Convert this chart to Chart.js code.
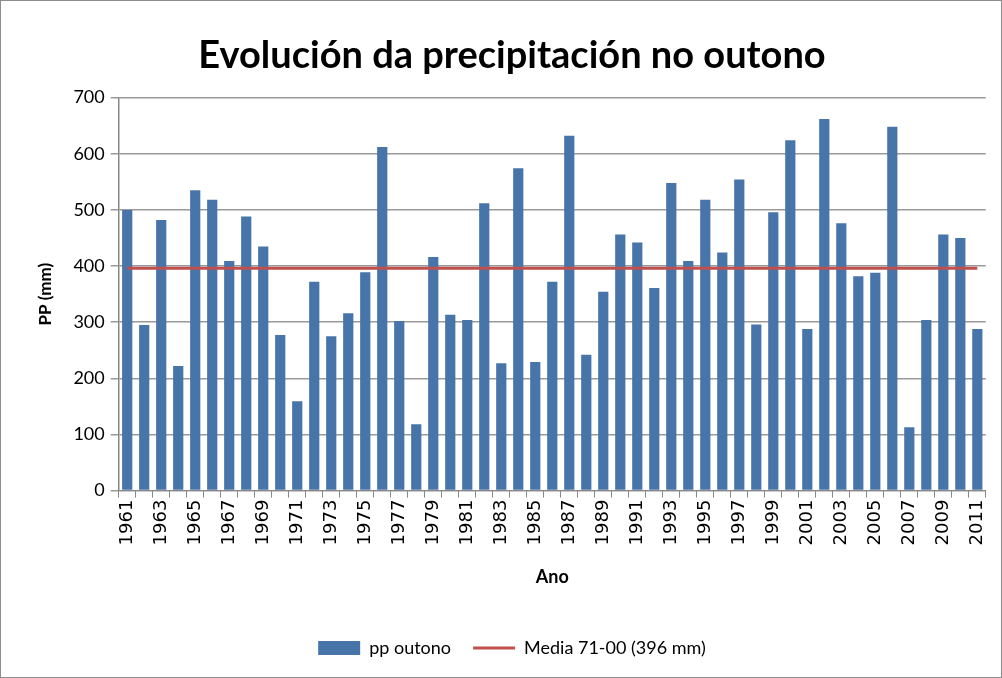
<!DOCTYPE html>
<html>
<head>
<meta charset="utf-8">
<script src="https://cdn.jsdelivr.net/npm/chart.js@4/dist/chart.umd.min.js"></script>
<style>
  html, body { margin: 0; padding: 0; background: #fff; }
  #wrap { width: 1000px; height: 676px; border: 1px solid #8c8c8c; position: relative; }
</style>
</head>
<body>
<div id="wrap"><canvas id="ppChart" width="1000" height="676"></canvas></div>
<script>
const years = ["1961","1962","1963","1964","1965","1966","1967","1968","1969","1970",
  "1971","1972","1973","1974","1975","1976","1977","1978","1979","1980",
  "1981","1982","1983","1984","1985","1986","1987","1988","1989","1990",
  "1991","1992","1993","1994","1995","1996","1997","1998","1999","2000",
  "2001","2002","2003","2004","2005","2006","2007","2008","2009","2010","2011"];

const ppOutono = [500, 295, 482, 222, 535, 518, 409, 488, 435, 277,
  159, 372, 275, 316, 389, 612, 302, 118, 416, 313,
  304, 512, 227, 574, 229, 372, 632, 242, 354, 456,
  442, 361, 548, 409, 518, 424, 554, 296, 496, 624,
  288, 662, 476, 382, 388, 648, 113, 304, 456, 450, 288];

const mediaValue = 396;
const mediaLine = [{ x: "1961", y: mediaValue }, { x: "2011", y: mediaValue }];

const yTicks = [0, 100, 200, 300, 400, 500, 600, 700];

new Chart(document.getElementById("ppChart"), {
  type: "bar",
  data: {
    labels: years,
    datasets: [
      {
        type: "line",
        label: "Media 71-00 (396 mm)",
        data: mediaLine,
        borderColor: "#C0504D",
        backgroundColor: "#C0504D",
        borderWidth: 3,
        pointRadius: 0,
        pointStyle: "line",
        order: 0
      },
      {
        label: "pp outono",
        data: ppOutono,
        backgroundColor: "#4774A9",
        borderWidth: 0,
        categoryPercentage: 1,
        barPercentage: 0.6,
        pointStyle: "rect",
        order: 1
      }
    ]
  },
  options: {
    responsive: false,
    animation: false,
    layout: { padding: { left: 30, right: 8, top: 20, bottom: 10 } },
    plugins: {
      title: {
        display: true,
        text: "Evolución da precipitación no outono",
        color: "#000",
        font: { family: "Lato", size: 38, weight: "bold" },
        padding: { top: 12, bottom: 19 }
      },
      legend: {
        position: "bottom",
        reverse: true,
        labels: {
          usePointStyle: true,
          pointStyleWidth: 42,
          boxHeight: 14,
          color: "#000",
          font: { family: "Lato", size: 18 },
          padding: 22
        }
      },
      tooltip: { enabled: false }
    },
    scales: {
      x: {
        grid: { display: true, drawOnChartArea: false, offset: true, tickLength: 7, color: "#888" },
        border: { color: "#888" },
        ticks: {
          autoSkip: false,
          minRotation: 90,
          maxRotation: 90,
          padding: 2,
          color: "#000",
          font: { family: "DejaVu Sans", size: 18 },
          callback: function (v, i) { return i % 2 === 0 ? years[i] : ""; }
        },
        title: {
          display: true,
          text: "Ano",
          color: "#000",
          font: { family: "Lato", size: 18, weight: "bold" },
          padding: { top: 19, bottom: 29 }
        }
      },
      y: {
        min: 0,
        max: 700,
        afterBuildTicks: function (axis) { axis.ticks = yTicks.map(v => ({ value: v })); },
        grid: { color: "#9a9a9a", tickLength: 8, lineWidth: 1.5 },
        border: { color: "#888", width: 1.5 },
        ticks: {
          color: "#000",
          font: { family: "Lato", size: 18 },
          padding: 6
        },
        title: {
          display: true,
          text: "PP (mm)",
          color: "#000",
          font: { family: "Lato", size: 17, weight: "bold" },
          padding: { bottom: 12 }
        }
      }
    }
  }
});
</script>
</body>
</html>
